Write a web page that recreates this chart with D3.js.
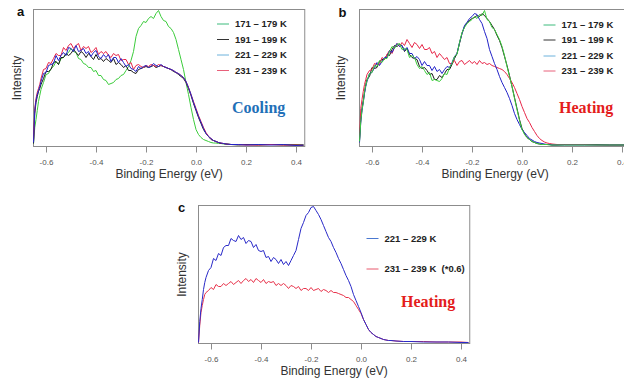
<!DOCTYPE html>
<html><head><meta charset="utf-8">
<script src="https://cdn.jsdelivr.net/npm/d3@7"></script>
<style>body{margin:0;background:#fff}svg{display:block}</style>
</head><body>
<svg id="chart" width="624" height="379"></svg>
<script>
// Binding energy grid (eV)
const energy = [-0.65,-0.645,-0.64,-0.635,-0.63,-0.625,-0.62,-0.61,-0.60,-0.59,
 -0.58,-0.57,-0.56,-0.55,-0.54,-0.53,-0.52,-0.51,-0.50,-0.49,
 -0.48,-0.47,-0.46,-0.45,-0.44,-0.43,-0.42,-0.41,-0.40,-0.39,
 -0.38,-0.37,-0.36,-0.35,-0.34,-0.33,-0.32,-0.31,-0.30,-0.29,
 -0.28,-0.27,-0.26,-0.25,-0.24,-0.23,-0.22,-0.21,-0.20,-0.19,
 -0.18,-0.17,-0.16,-0.15,-0.14,-0.13,-0.12,-0.11,-0.10,-0.09,
 -0.08,-0.07,-0.06,-0.05,-0.04,-0.03,-0.02,-0.01,0.00,0.01,
 0.02,0.03,0.04,0.05,0.06,0.07,0.08,0.09,0.10,0.11,
 0.12,0.14,0.17,0.20,0.25,0.30,0.35,0.40,0.43];

const xTicks = [-0.6,-0.4,-0.2,0.0,0.2,0.4];
const legend4 = ["171 – 179 K","191 – 199 K","221 – 229 K","231 – 239 K"];
const legend2 = ["221 – 229 K","231 – 239 K  (*0.6)"];

// Panel a (Cooling)
const a171 = [3,19,27,36,45,51,57,
 64,72,73,78,80,85,82,88,89,92, 94,98,95,94,88,87,83,82,79,79,
 75,76,71,71,67,66,62,63,64,67, 68,71,72,76,80,86,
 95,110,118,121,125,124,128,130,128,133, 136,130,126,125,120,118,114,
 107,97,87,77,64,52,39,27,17,12, 9,7,6,5,4,3.5,3.5,3,3,2.5, 2.5,2,2,2,2,2,2,2,2];
const a191 = [3,33,44,50,55,58,62,
 68,75,75,77,84,85,82,89,89,93, 91,93,97,94,91,95,93,89,93,90,
 87,92,87,88,85,88,86,84,88,82, 84,82,79,81,76,76,74,73,77,
 78,79,80,79, 80,81,79,80,81,80,79,78,77,75,
 74,72,70,68,64,58,51,43,36,29, 23,17,13,10,7,6,5,4,3,3, 2.5,2,1.5,2,1.5,2,1.5,1.5,1];
const a221 = [4,36,46,52,56,60,65,
 73,74,81,82,83,91,86,91,94,91, 99,98,95,101,95,96,98,93,95,90,
 94,96,90,88,92,89,92,85,89,89, 84,88,84,80,82,78,77,75,80,
 78,80,81,79, 80,83,81,80,82,80,79,78,77,76,
 74,73,71,69,65,59,52,44,37,30, 24,18,13,10,8,6,5,4,3.5,3, 2.5,2,2,1.5,2,1.5,2,1,1.5];
const a231 = [5,38,48,54,58,62,68,
 77,78,84,83,88,93,91,91,99,96, 101,103,98,101,103,96,100,98,100,94,
 96,99,92,95,93,95,91,89,93,91, 92,86,87,87,82,84,77,81,82,
 80,79,81,80, 82,81,80,82,81,80,79,78,77,76,
 74,73,71,69,65,59,52,45,38,31, 25,19,14,10,8,6,5,4,3.5,3, 2.5,2,2,1.5,1.5,2,1.5,1.5,1.5];

// Panel b (Heating)
const b171 = [5,25,37,44,55,61,66,
 73,74,81,80,86,84,88,88,95,100, 98,102,103,97,98,97,89,91,89,82,
 78,80,76,72,74,66,67,66,65,68, 73,72,79,83,90,92,
 104,114,119,123,125,127,130,128,132,131, 136,127,125,119,117,112,107,
 100,91,80,70,60,48,37,26,17,12, 9,7,5,4,3,2.5,2,2,2,1.5, 1.5,1.5,1.5,1.5,1.5,1.5,1.5,1.5,1.5];
const b191 = [6,27,38,46,54,62,67,
 70,79,78,79,85,87,87,92,91,97, 101,100,102,101,95,98,92,89,88,87,
 80,78,79,76,72,73,67,67,71,69, 73,77,77,82,88,93,
 103,113,120,124,126,128,129,131,130,133, 131,128,125,121,117,111,106,
 99,90,81,71,60,49,38,27,18,13, 9,7,5,4,3,2.5,2,2,2,2, 1.5,1.5,2,2,2,2,1.5,1.5,1.5];
const b221 = [4,24,36,44,53,60,65,
 73,74,79,84,81,85,89,89,96,94, 99,103,100,101,96,99,93,93,88,90,
 87,81,85,81,81,76,80,75,77,73, 77,80,79,84,90,93,
 104,113,121,124,128,130,133,132,127,123, 115,108,97,90,83,77,70,
 64,59,54,48,41,33,27,22,17,14, 11,8,6.5,5,4,3.5,3,2.5,2,2, 1.5,1.5,1.5,1.5,1.5,1.5,1.5,1.5,1.5];
const b231 = [8,38,47,55,62,67,72,
 76,77,83,82,82,89,87,92,96,93, 99,103,100,104,101,107,103,99,104,102,
 98,102,97,97,99,93,95,89,93,90, 87,89,83,83,86,81,85,86,82,84,
 86,83,85,82,86,83,84,82,83,81, 80,79,78,
 77,75,72,68,64,59,53,47,40,34, 28,24,19,15,11,8,6,4.5,3.5,3, 2.5,2,2,2,2,1.5,1.5,1.5,1.5];

// Panel c (Heating)
const c221 = [1,22,35,44,54,61,66,
 73,76,85,83,90,88,96,98,98,105, 103,102,108,104,106,100,103,102,96,99,
 93,92,93,86,87,82,86,84,80,84, 79,82,78,83,88,93,104,115,121,
 128,131,136,137,133,129,124,118,112,106,102,96,91,85,
 80,74,68,63,57,49,43,37,31,24, 19,14,11,9,7,6,5,4,3.5,3, 3,2.5,2,2,1.5,1.5,1.5,1,1];
const c231 = [1,18,31,38,44,49,51,
 53,56,54,59,57,57,60,58,60,62, 59,61,63,60,63,65,62,64,61,65,
 63,61,64,60,62,61,62,58,60,58, 60,58,55,58,57,55,57,53,55,55,
 53,56,53,54,55,52,54,53,51,53, 51,51,50,
 49,48,46,46,44,42,38,34,30,24, 19,14,11,9,7,6,5,4,3.5,3, 3,2.5,2,2,2,1.5,1.5,1.5,1];

const svg = d3.select("#chart");
const FONT = "'Liberation Sans', Arial, sans-serif";

const panels = [
  { left: 33.5, top: 9.5, bottom: 146.5, yMax: 137, letter: "a", letterX: 17, letterY: 16,
    intX: 20.5, series: [
      {v: a171, c: "#3ccc3c"}, {v: a191, c: "#1a1a1a"}, {v: a231, c: "#e8284a"}, {v: a221, c: "#2323c8"}],
    legend: {x: 217, ys: [24, 39.5, 55, 70.5], names: legend4,
      colors: ["#3dbb7c", "#333333", "#6cb2dc", "#e8607a"]},
    note: {text: "Cooling", x: 232, y: 113, color: "#1f70b8"} },
  { left: 359.5, top: 9.5, bottom: 146.5, yMax: 137, letter: "b", letterX: 338.5, letterY: 16.5,
    intX: 344.5, series: [
      {v: b191, c: "#1a1a1a"}, {v: b231, c: "#e8284a"}, {v: b221, c: "#2323c8"}, {v: b171, c: "#3ccc3c"}],
    legend: {x: 543.5, ys: [25, 40, 56, 71], names: legend4,
      colors: ["#3dbb7c", "#333333", "#6cb2dc", "#e8607a"]},
    note: {text: "Heating", x: 559, y: 113, color: "#e41c1c"} },
  { left: 198.5, top: 205.5, bottom: 343.5, yMax: 138, letter: "c", letterX: 178, letterY: 211.5,
    intX: 185.5, series: [
      {v: c231, c: "#e8344c"}, {v: c221, c: "#2a2ac8"}],
    legend: {x: 366.5, ys: [238.5, 269], names: legend2,
      colors: ["#4a78d0", "#e8586c"]},
    note: {text: "Heating", x: 401, y: 307, color: "#e41c1c"} }
];

const width = 271.25;

panels.forEach(p => {
  const g = svg.append("g");
  const x = d3.scaleLinear().domain([-0.65, 0.435]).range([p.left, p.left + width]);
  const y = d3.scaleLinear().domain([0, p.yMax]).range([p.bottom, p.top]);

  // frame
  g.append("rect").attr("x", p.left).attr("y", p.top)
    .attr("width", width).attr("height", p.bottom - p.top)
    .attr("fill", "none").attr("stroke", "#8c8c8c").attr("stroke-width", 1);

  // x axis ticks
  const ax = g.append("g").attr("transform", `translate(0,${p.bottom})`)
    .call(d3.axisBottom(x).tickValues(xTicks).tickSize(6).tickFormat(d => d.toFixed(1)));
  ax.select(".domain").remove();
  ax.selectAll(".tick line").attr("stroke", "#8c8c8c");
  ax.selectAll(".tick text").attr("y", 12.5).attr("fill", "#555")
    .style("font-family", FONT).style("font-size", "8px");

  // curves
  const line = d3.line().x((d, i) => x(energy[i])).y(d => y(d));
  p.series.forEach(s => {
    g.append("path").datum(s.v).attr("d", line)
      .attr("fill", "none").attr("stroke", s.c).attr("stroke-width", 1)
      .attr("stroke-linejoin", "round");
  });

  // axis titles
  g.append("text").attr("x", p.left + width / 2).attr("y", p.bottom + 31)
    .attr("text-anchor", "middle").attr("fill", "#333")
    .style("font-family", FONT).style("font-size", "12px").text("Binding Energy (eV)");
  g.append("text").attr("transform", `translate(${p.intX},${(p.top + p.bottom) / 2}) rotate(-90)`)
    .attr("text-anchor", "middle").attr("fill", "#333")
    .style("font-family", FONT).style("font-size", "12px").text("Intensity");

  // panel letter
  g.append("text").attr("x", p.letterX).attr("y", p.letterY).attr("fill", "#111")
    .style("font-family", FONT).style("font-size", "13px").style("font-weight", "bold").text(p.letter);

  // legend
  p.legend.names.forEach((n, i) => {
    const ly = p.legend.ys[i];
    g.append("line").attr("x1", p.legend.x).attr("x2", p.legend.x + 12)
      .attr("y1", ly).attr("y2", ly).attr("stroke", p.legend.colors[i]).attr("stroke-width", 1);
    g.append("text").attr("x", p.legend.x + 18).attr("y", ly + 3.3).attr("fill", "#222")
      .style("font-family", FONT).style("font-size", "9.5px").style("font-weight", "bold")
      .style("white-space", "pre").text(n);
  });

  // note
  g.append("text").attr("x", p.note.x).attr("y", p.note.y).attr("fill", p.note.color)
    .style("font-family", "'Liberation Serif', 'Times New Roman', serif")
    .style("font-size", "16px").style("font-weight", "bold").text(p.note.text);
});
</script>
</body></html>
